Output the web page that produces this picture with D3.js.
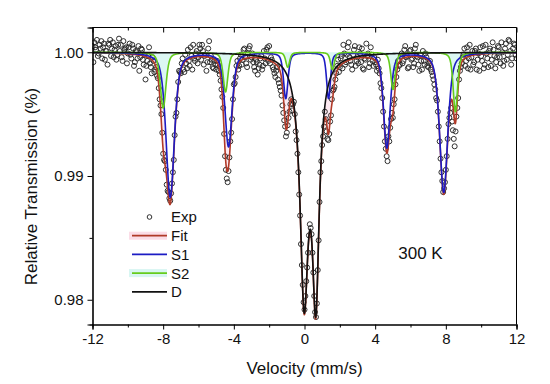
<!DOCTYPE html>
<html>
<head>
<meta charset="utf-8">
<script src="https://cdn.jsdelivr.net/npm/d3@7"></script>
<style>
  body { margin: 0; background: #fff; }
  svg { display: block; font-family: "Liberation Sans", Arial, sans-serif; }
</style>
</head>
<body>
<div id="chart"></div>
<script>
// velocity grid of the measured channels (mm/s): two interleaved sweeps
const velocityStart = -12;
const velocityStartHalf = -11.95;
const velocityStep = 0.1;

// measured relative transmission, first sweep (-12.00 ... 12.00)
const expTransmission = [
  1.0005, 1.0008, 1.0002, 0.9997, 1.0006, 1.0009, 1.0004, 0.9994, 1.0001, 1.0007,
  1.0010, 1.0003, 0.9996, 1.0005, 0.9998, 1.0011, 1.0006, 0.9993, 1.0002, 1.0004,
  0.9999, 1.0007, 0.9995, 1.0003, 0.9992, 1.0000, 1.0005, 0.9996, 1.0002, 0.9990,
  0.9978, 0.9993, 1.0004, 0.9988, 0.9996, 0.9984, 0.9988, 0.9979, 0.9962, 0.9950,
  0.9918, 0.9912, 0.9893, 0.9887, 0.9880, 0.9894, 0.9913, 0.9948, 0.9962, 0.9985,
  0.9983, 0.9995, 0.9984, 0.9991, 1.0002, 0.9989, 0.9997, 1.0006, 0.9993, 1.0001,
  0.9996, 1.0003, 1.0006, 0.9990, 0.9998, 0.9992, 1.0009, 0.9997, 0.9988, 0.9993,
  0.9986, 0.9990, 0.9982, 0.9970, 0.9955, 0.9916, 0.9898, 0.9904, 0.9928, 0.9946,
  0.9974, 0.9980, 0.9993, 0.9989, 0.9998, 0.9994, 1.0003, 0.9991, 0.9999, 1.0005,
  0.9996, 0.9992, 0.9985, 0.9992, 0.9987, 0.9995, 0.9986, 1.0001, 0.9991, 1.0004,
  1.0005, 0.9996, 0.9988, 0.9983, 0.9985, 0.9978, 0.9972, 0.9965, 0.9951, 0.9940,
  0.9935, 0.9947, 0.9958, 0.9953, 0.9960, 0.9936, 0.9918, 0.9885, 0.9845, 0.9812,
  0.9792, 0.9815, 0.9838, 0.9861, 0.9853, 0.9822, 0.9790, 0.9797, 0.9848, 0.9903,
  0.9925, 0.9940, 0.9946, 0.9930, 0.9934, 0.9949, 0.9969, 0.9972, 0.9983, 0.9994,
  0.9988, 0.9997, 1.0006, 0.9990, 0.9998, 1.0008, 0.9993, 0.9986, 1.0002, 0.9989,
  0.9996, 1.0004, 0.9992, 0.9987, 0.9995, 1.0007, 0.9999, 0.9991, 0.9998, 0.9989,
  0.9992, 0.9985, 0.9987, 0.9975, 0.9963, 0.9940, 0.9922, 0.9912, 0.9928, 0.9946,
  0.9947, 0.9962, 0.9980, 0.9993, 0.9990, 0.9999, 0.9993, 1.0005, 0.9997, 0.9988,
  1.0002, 0.9995, 0.9991, 1.0006, 0.9996, 0.9985, 0.9993, 1.0001, 0.9990, 0.9996,
  0.9988, 0.9993, 0.9984, 0.9978, 0.9970, 0.9961, 0.9940, 0.9914, 0.9896, 0.9890,
  0.9905, 0.9930, 0.9947, 0.9955, 0.9937, 0.9924, 0.9948, 0.9963, 0.9985, 0.9991,
  0.9998, 0.9989, 1.0004, 0.9995, 0.9986, 1.0001, 0.9992, 1.0003, 0.9994, 0.9985,
  0.9997, 1.0005, 0.9990, 0.9999, 0.9988, 1.0003, 0.9994, 1.0002, 0.9987, 0.9996,
  1.0004, 0.9991, 1.0000, 0.9993, 1.0007, 0.9998, 1.0009, 0.9990, 1.0003, 1.0006,
  0.9995
];

// measured relative transmission, second sweep (-11.95 ... 11.95)
const expTransmissionHalf = [
  0.9992, 1.0004, 1.0010, 0.9999, 1.0003, 0.9995, 1.0007, 1.0001, 0.9990, 1.0006,
  0.9997, 1.0008, 1.0002, 0.9994, 1.0006, 1.0001, 0.9996, 1.0009, 1.0003, 0.9991,
  1.0004, 0.9998, 1.0006, 0.9989, 1.0001, 0.9995, 0.9985, 1.0003, 0.9994, 0.9998,
  0.9989, 0.9997, 0.9991, 0.9983, 0.9993, 0.9986, 0.9981, 0.9971, 0.9957, 0.9935,
  0.9913, 0.9905, 0.9888, 0.9882, 0.9886, 0.9903, 0.9933, 0.9951, 0.9976, 0.9984,
  0.9991, 0.9986, 0.9998, 0.9987, 0.9993, 1.0004, 0.9986, 0.9995, 0.9999, 0.9991,
  1.0006, 0.9994, 1.0001, 0.9997, 0.9985, 1.0003, 0.9992, 0.9994, 0.9987, 0.9990,
  0.9993, 0.9985, 0.9977, 0.9964, 0.9934, 0.9905, 0.9895, 0.9915, 0.9935, 0.9962,
  0.9975, 0.9989, 0.9986, 0.9995, 0.9990, 1.0002, 0.9996, 0.9988, 1.0003, 0.9994,
  0.9999, 0.9988, 0.9994, 0.9982, 0.9990, 0.9997, 0.9989, 0.9995, 1.0002, 0.9993,
  0.9991, 0.9994, 0.9986, 0.9980, 0.9988, 0.9975, 0.9969, 0.9957, 0.9945, 0.9932,
  0.9941, 0.9952, 0.9962, 0.9958, 0.9950, 0.9929, 0.9903, 0.9868, 0.9828, 0.9798,
  0.9803, 0.9826, 0.9852, 0.9858, 0.9838, 0.9803, 0.9786, 0.9824, 0.9879, 0.9912,
  0.9932, 0.9952, 0.9936, 0.9929, 0.9944, 0.9962, 0.9970, 0.9978, 0.9989, 0.9984,
  0.9995, 0.9987, 0.9999, 0.9992, 1.0004, 0.9996, 0.9990, 0.9998, 1.0005, 0.9993,
  0.9991, 0.9999, 1.0003, 0.9986, 0.9994, 0.9997, 0.9988, 1.0004, 0.9993, 0.9996,
  0.9990, 0.9994, 0.9983, 0.9971, 0.9952, 0.9928, 0.9916, 0.9932, 0.9939, 0.9951,
  0.9958, 0.9974, 0.9986, 0.9989, 0.9997, 0.9991, 1.0002, 0.9996, 0.9987, 1.0001,
  0.9994, 0.9988, 1.0003, 0.9997, 0.9990, 0.9998, 0.9986, 0.9993, 0.9999, 0.9989,
  0.9991, 0.9986, 0.9981, 0.9974, 0.9963, 0.9952, 0.9928, 0.9903, 0.9887, 0.9895,
  0.9916, 0.9942, 0.9951, 0.9944, 0.9930, 0.9936, 0.9955, 0.9978, 0.9988, 0.9996,
  1.0003, 0.9993, 0.9987, 1.0006, 0.9996, 0.9990, 1.0001, 0.9986, 0.9999, 1.0004,
  0.9993, 0.9987, 1.0006, 0.9995, 1.0001, 0.9989, 1.0008, 0.9997, 0.9992, 1.0005,
  0.9996, 1.0008, 0.9989, 1.0003, 0.9994, 1.0010, 1.0001, 0.9995, 1.0007, 0.9998
];

// fitted subspectra: line positions (mm/s), line depths, half widths (mm/s)
const s1Position = [-7.60, -4.30, -1.06, 1.36, 4.66, 7.88];
const s1Depth = [0.0117, 0.0076, 0.0037, 0.0037, 0.0077, 0.0113];
const s1Width = [0.28, 0.24, 0.15, 0.13, 0.22, 0.27];

const s2Position = [-8.00, -4.47, -0.95, 1.58, 5.01, 8.54];
const s2Depth = [0.0045, 0.0032, 0.0012, 0.0014, 0.0030, 0.0048];
const s2Width = [0.19, 0.16, 0.13, 0.13, 0.15, 0.15];

const dPosition = [-0.02, 0.64];
const dDepth = [0.0189, 0.0185];
const dWidth = [0.28, 0.24];

const xTicks = [-12, -8, -4, 0, 4, 8, 12];
const xMinorTicks = [-10, -6, -2, 2, 6, 10];
const yTicks = [0.98, 0.99, 1.0];
const yMinorTicks = [0.985, 0.995];

const legendItems = ["Exp", "Fit", "S1", "S2", "D"];
const tempLabel = "300 K";

class SpectrumVis {
  constructor(_parentElement) {
    this.parentElement = _parentElement;
    this.initVis();
  }

  initVis() {
    let vis = this;

    vis.width = 550;
    vis.height = 384;
    vis.margin = { top: 27.5, right: 33.5, bottom: 59.5, left: 92.5 };
    vis.innerW = vis.width - vis.margin.left - vis.margin.right;
    vis.innerH = vis.height - vis.margin.top - vis.margin.bottom;

    vis.colors = {
      Fit: "#b03a28",
      S1: "#1c1cc4",
      S2: "#66cc1c",
      D: "#111111",
    };

    vis.svg = d3
      .select("#" + vis.parentElement)
      .append("svg")
      .attr("width", vis.width)
      .attr("height", vis.height);

    vis.g = vis.svg
      .append("g")
      .attr("transform", `translate(${vis.margin.left},${vis.margin.top})`);

    vis.x = d3.scaleLinear().domain([-12, 12]).range([0, vis.innerW]);
    vis.y = d3.scaleLinear().domain([0.978, 1.002]).range([vis.innerH, 0]);

    vis.svg
      .append("defs")
      .append("clipPath")
      .attr("id", "plot-clip")
      .append("rect")
      .attr("width", vis.innerW)
      .attr("height", vis.innerH);

    vis.fillGroup = vis.g.append("g").attr("clip-path", "url(#plot-clip)");
    vis.pointGroup = vis.g.append("g").attr("clip-path", "url(#plot-clip)");
    vis.curveGroup = vis.g.append("g").attr("clip-path", "url(#plot-clip)");
    vis.axisGroup = vis.g.append("g");
    vis.legendGroup = vis.g.append("g");

    vis.wrangleData();
  }

  wrangleData() {
    let vis = this;

    // pseudo-Voigt line shape, eta = Lorentzian share
    const line = (v, p, depth, w, eta) => {
      const u = (v - p) / w;
      return depth * (eta / (1 + u * u) + (1 - eta) * Math.exp(-Math.LN2 * u * u));
    };
    const absorb = (v, pos, depth, width, eta) =>
      d3.sum(pos, (p, i) => line(v, p, depth[i], width[i], eta));

    vis.points = expTransmission
      .map((t, i) => ({ v: velocityStart + i * velocityStep, t: t }))
      .concat(
        expTransmissionHalf.map((t, i) => ({
          v: velocityStartHalf + i * velocityStep,
          t: t,
        }))
      );

    vis.curve = d3.range(-12, 12.0001, 0.01).map((v) => {
      const a1 = absorb(v, s1Position, s1Depth, s1Width, 0.5);
      const a2 = absorb(v, s2Position, s2Depth, s2Width, 0.5);
      const ad = absorb(v, dPosition, dDepth, dWidth, 1);
      return {
        v: v,
        S1: 1 - a1,
        S2: 1 - a2,
        D: 1 - ad,
        Fit: 1 - a1 - a2 - ad,
      };
    });

    vis.updateVis();
  }

  updateVis() {
    let vis = this;

    // shaded areas
    vis.fillGroup
      .append("path")
      .datum(vis.curve)
      .attr("fill", "#dcf7f3")
      .attr(
        "d",
        d3
          .area()
          .x((d) => vis.x(d.v))
          .y0(vis.y(1))
          .y1((d) => vis.y(d.S2))
      );

    vis.fillGroup
      .append("path")
      .datum(vis.curve)
      .attr("fill", "#fdeaf1")
      .attr(
        "d",
        d3
          .area()
          .x((d) => vis.x(d.v))
          .y0((d) => vis.y(Math.min(d.S1, d.S2, d.D)))
          .y1((d) => vis.y(d.Fit))
      );

    // measured points
    vis.pointGroup
      .selectAll("circle")
      .data(vis.points)
      .join("circle")
      .attr("cx", (d) => vis.x(d.v))
      .attr("cy", (d) => vis.y(d.t))
      .attr("r", 2.5)
      .attr("fill", "none")
      .attr("stroke", "#262626")
      .attr("stroke-width", 0.95);

    // fitted curves
    ["Fit", "S1", "S2", "D"].forEach((key) => {
      vis.curveGroup
        .append("path")
        .datum(vis.curve)
        .attr("fill", "none")
        .attr("stroke", vis.colors[key])
        .attr("stroke-width", 1.6)
        .attr("stroke-linejoin", "round")
        .attr(
          "d",
          d3
            .line()
            .x((d) => vis.x(d.v))
            .y((d) => vis.y(d[key]))
        );
    });

    // axes
    const bottom = vis.axisGroup
      .append("g")
      .attr("transform", `translate(0,${vis.innerH})`);
    bottom.call(
      d3.axisBottom(vis.x).tickValues(xTicks).tickSize(5).tickPadding(4)
        .tickFormat((d) => String(d))
    );
    bottom
      .append("g")
      .call(d3.axisBottom(vis.x).tickValues(xMinorTicks).tickSize(3).tickFormat(""));

    const top = vis.axisGroup.append("g");
    top.call(d3.axisBottom(vis.x).tickValues(xTicks).tickSize(5).tickFormat(""));
    top
      .append("g")
      .call(d3.axisBottom(vis.x).tickValues(xMinorTicks).tickSize(3).tickFormat(""));

    const left = vis.axisGroup.append("g");
    left.call(
      d3.axisLeft(vis.y).tickValues(yTicks).tickSize(5).tickPadding(4)
        .tickFormat((d) => d.toFixed(2))
    );
    left
      .append("g")
      .call(d3.axisLeft(vis.y).tickValues(yMinorTicks).tickSize(3).tickFormat(""));

    vis.axisGroup
      .append("line")
      .attr("x1", vis.innerW)
      .attr("x2", vis.innerW)
      .attr("y1", 0)
      .attr("y2", vis.innerH)
      .attr("stroke", "#000");

    vis.axisGroup.selectAll(".domain").attr("stroke", "#000").attr("stroke-width", 1.1);
    vis.axisGroup.selectAll(".tick line").attr("stroke", "#000");
    vis.axisGroup
      .selectAll(".tick text")
      .attr("font-size", 15)
      .attr("font-family", '"Liberation Sans", Arial, sans-serif')
      .attr("fill", "#111");
    top.selectAll(".domain").attr("d", `M0,0H${vis.innerW}`);

    // axis titles
    vis.g
      .append("text")
      .attr("x", vis.innerW / 2)
      .attr("y", vis.innerH + 49.5)
      .attr("text-anchor", "middle")
      .attr("font-size", 17)
      .attr("fill", "#111")
      .text("Velocity (mm/s)");

    vis.g
      .append("text")
      .attr("transform", `translate(${31.5 - vis.margin.left},${186.5 - vis.margin.top}) rotate(-90)`)
      .attr("text-anchor", "middle")
      .attr("dy", "0.35em")
      .attr("font-size", 17)
      .attr("fill", "#111")
      .text("Relative Transmission (%)");

    vis.g
      .append("text")
      .attr("x", 420.5 - vis.margin.left)
      .attr("y", 258.5 - vis.margin.top)
      .attr("text-anchor", "middle")
      .attr("font-size", 17)
      .attr("fill", "#111")
      .text(tempLabel);

    // legend
    const rowH = 18.7;
    const lx0 = 132 - vis.margin.left;
    const lx1 = 167 - vis.margin.left;
    const ly0 = 217 - vis.margin.top;

    const item = vis.legendGroup
      .selectAll("g")
      .data(legendItems)
      .join("g")
      .attr("transform", (d, i) => `translate(0,${ly0 + i * rowH})`);

    item
      .filter((d) => d === "Fit" || d === "S2")
      .append("rect")
      .attr("x", lx0 - 3)
      .attr("y", -4)
      .attr("width", lx1 - lx0 + 3)
      .attr("height", 8)
      .attr("fill", (d) => (d === "Fit" ? "#fbdde7" : "#d8f6f2"));

    item
      .filter((d) => d === "Exp")
      .append("circle")
      .attr("cx", (lx0 + lx1) / 2)
      .attr("cy", 0)
      .attr("r", 2.3)
      .attr("fill", "none")
      .attr("stroke", "#262626")
      .attr("stroke-width", 0.95);

    item
      .filter((d) => d !== "Exp")
      .append("line")
      .attr("x1", lx0)
      .attr("x2", lx1)
      .attr("stroke", (d) => vis.colors[d])
      .attr("stroke-width", 1.8);

    item
      .append("text")
      .attr("x", lx1 + 4)
      .attr("dy", "0.36em")
      .attr("font-size", 15)
      .attr("fill", "#111")
      .text((d) => d);
  }
}

new SpectrumVis("chart");
</script>
</body>
</html>
